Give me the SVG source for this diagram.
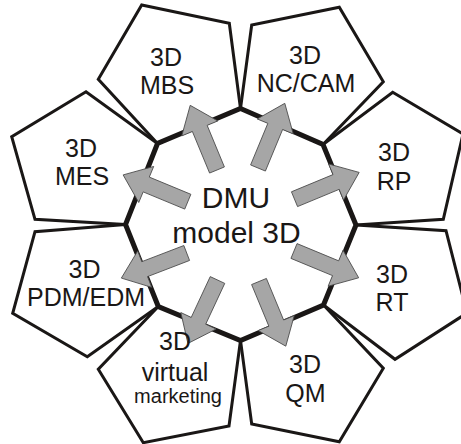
<svg xmlns="http://www.w3.org/2000/svg" width="461" height="444" viewBox="0 0 461 444">
<defs>
<style>
.pent{fill:#fff;stroke:#1a1716;stroke-width:3;stroke-linejoin:miter;stroke-miterlimit:10}
.oct{fill:none;stroke:#1a1716;stroke-width:5;stroke-linejoin:miter}
.lbl{font-family:"Liberation Sans",Arial,sans-serif;font-size:25px;fill:#1a1716;text-anchor:middle}
.ctr{font-family:"Liberation Sans",Arial,sans-serif;font-size:30px;fill:#1a1716;text-anchor:middle}
.arr{fill:#a6a6a6;stroke:#4a4a4a;stroke-width:0.8;stroke-linejoin:miter}
</style>
<path id="arrow" d="M0,-8 L45,-8 L45,-19.5 L70,0 L45,19.5 L45,8 L0,8 Z"/>
</defs>
<rect width="461" height="444" fill="#fff"/>
<g id="node-mbs">
<polygon class="pent" points="157.5,143.5 98.3,79.3 141.7,5 229.3,23.3 240.5,108.5"/>
<text class="lbl" x="166" y="66">3D</text>
<text class="lbl" x="167" y="94">MBS</text>
</g>
<g id="node-nccam">
<polygon class="pent" points="240.5,108.5 251.7,25 339.3,7.3 383.3,81.7 323,144.5"/>
<text class="lbl" x="305" y="63.5">3D</text>
<text class="lbl" x="306" y="91.5">NC/CAM</text>
</g>
<g id="node-rp">
<polygon class="pent" points="323,144.5 392.7,92.3 463,134 443.3,219.3 356,225"/>
<text class="lbl" x="394" y="161">3D</text>
<text class="lbl" x="394" y="190">RP</text>
</g>
<g id="node-rt">
<polygon class="pent" points="356,225 446,230.7 467,313 395,359.3 323.5,305"/>
<text class="lbl" x="392" y="282.5">3D</text>
<text class="lbl" x="392" y="310.5">RT</text>
</g>
<g id="node-qm">
<polygon class="pent" points="323.5,305 383.3,368.3 339.3,441.7 251.7,424 240.5,340.5"/>
<text class="lbl" x="305" y="372.5">3D</text>
<text class="lbl" x="305.5" y="401.5">QM</text>
</g>
<g id="node-vm">
<polygon class="pent" points="240.5,340.5 229,426 143.3,442.7 98.3,369.3 158.3,306.5"/>
</g>
<g id="node-pdm">
<polygon class="pent" points="158.3,306.5 87.3,356.7 12.7,313.3 35,231.7 125.5,224.5"/>
<text class="lbl" x="84.5" y="278">3D</text>
<text class="lbl" x="86" y="306">PDM/EDM</text>
</g>
<g id="node-mes">
<polygon class="pent" points="125.5,224.5 35,219.3 11.7,136.7 86,91.7 157.5,143.5"/>
<text class="lbl" x="81" y="157">3D</text>
<text class="lbl" x="82" y="185">MES</text>
</g>
<g id="node-dmu">
<polygon class="oct" points="240.5,108.5 323,144.5 356,225 323.5,305 240.5,340.5 158.3,306.5 125.5,224.5 157.5,143.5"/>
<text class="ctr" x="236" y="208">DMU</text>
<text class="ctr" x="236.5" y="243">model 3D</text>
</g>
<g id="connectors">
<use href="#arrow" class="arr" transform="translate(217,170) rotate(-112.5)"/>
<use href="#arrow" class="arr" transform="translate(258,168) rotate(-67.5)"/>
<use href="#arrow" class="arr" transform="translate(294.5,199.2) rotate(-22.5)"/>
<use href="#arrow" class="arr" transform="translate(294,251) rotate(22.5)"/>
<use href="#arrow" class="arr" transform="translate(259,281.5) rotate(67.5)"/>
<use href="#arrow" class="arr" transform="translate(217.5,280) rotate(115)"/>
<use href="#arrow" class="arr" transform="translate(186.7,253) rotate(159)"/>
<use href="#arrow" class="arr" transform="translate(187.8,201.7) rotate(-157.5)"/>
</g>
<g id="node-vm-label">
<text class="lbl" x="175" y="350">3D</text>
<text class="lbl" x="175" y="380.5">virtual</text>
<text class="lbl" x="178" y="403" style="font-size:20px">marketing</text>
</g>
</svg>
